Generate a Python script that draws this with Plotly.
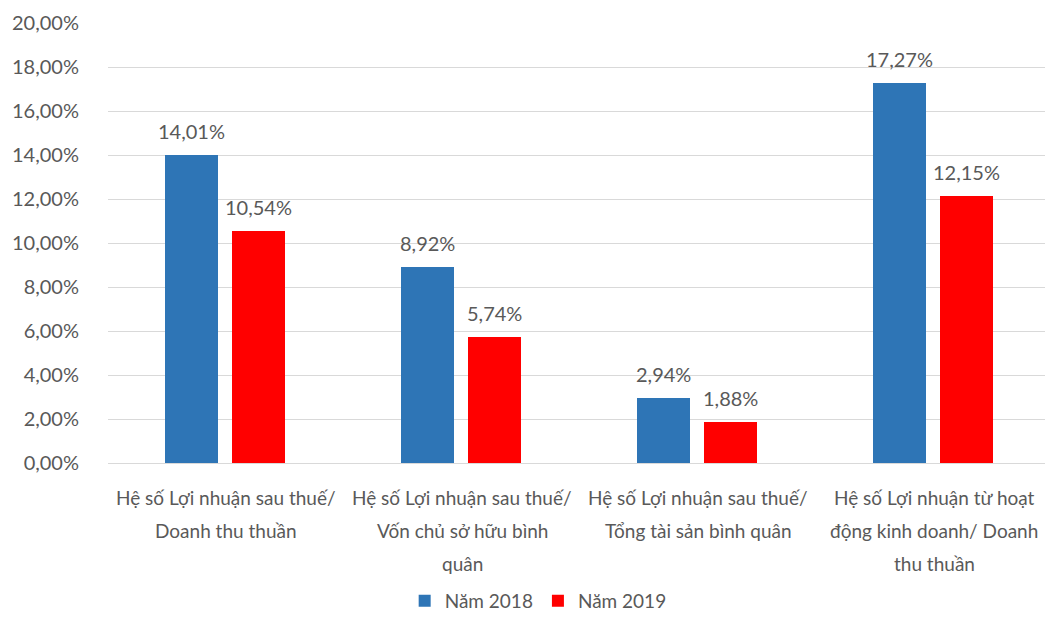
import plotly.graph_objects as go

categories = [
    ["Hệ số Lợi nhuận sau thuế/", "Doanh thu thuần"],
    ["Hệ số Lợi nhuận sau thuế/", "Vốn chủ sở hữu bình", "quân"],
    ["Hệ số Lợi nhuận sau thuế/", "Tổng tài sản bình quân"],
    ["Hệ số Lợi nhuận từ hoạt", "động kinh doanh/ Doanh", "thu thuần"],
]
series_names = ["Năm 2018", "Năm 2019"]
values_2018 = [0.1401, 0.0892, 0.0294, 0.1727]
values_2019 = [0.1054, 0.0574, 0.0188, 0.1215]
y_ticks = [0, 0.02, 0.04, 0.06, 0.08, 0.10, 0.12, 0.14, 0.16, 0.18, 0.20]

FONT = "Lato"
TXT = "#595959"
colors = ["#2E75B6", "#FF0000"]
offsets = [-0.145, 0.138]
bar_w = 0.225

x_idx = list(range(len(categories)))
fig = go.Figure()
for name, vals, col, off in zip(series_names, [values_2018, values_2019], colors, offsets):
    fig.add_trace(go.Bar(
        x=[i + off for i in x_idx], y=vals, name=name, width=bar_w,
        marker=dict(color=col, line=dict(width=0)),
    ))

annotations = []
for vals, off in zip([values_2018, values_2019], offsets):
    for i, v in zip(x_idx, vals):
        annotations.append(dict(
            x=i + off, y=v, xref="x", yref="y", text=f"{v*100:.2f}%".replace(".", ","),
            showarrow=False, yanchor="bottom", yshift=10,
            font=dict(family=FONT, size=20, color=TXT),
        ))
for i, lines in zip(x_idx, categories):
    for j, line in enumerate(lines):
        annotations.append(dict(
            x=i, y=0, xref="x", yref="y", text=line, showarrow=False,
            yanchor="middle", yshift=-(34 + 33 * j),
            font=dict(family=FONT, size=19, color=TXT),
        ))

fig.update_layout(
    width=1045, height=620,
    margin=dict(l=108, r=0, t=23, b=157),
    plot_bgcolor="white", paper_bgcolor="white",
    separators=",.",
    font=dict(family=FONT, size=19, color=TXT),
    showlegend=True,
    legend=dict(orientation="h", xref="container", yref="container", x=0.515, xanchor="center",
                y=0.0, yanchor="bottom", font=dict(family=FONT, size=19, color=TXT),
                itemwidth=30, traceorder="normal"),
    annotations=annotations,
    xaxis=dict(range=[-0.5, 3.47], showticklabels=False, showgrid=False, zeroline=False,
               showline=True, linecolor="#d9d9d9", linewidth=1, ticks=""),
    yaxis=dict(range=[0, 0.2], tickvals=y_ticks, tickformat=".2%", showgrid=True,
               gridcolor="#d9d9d9", gridwidth=1, zeroline=False, showline=False,
               ticks="", ticklabelstandoff=28,
               tickfont=dict(family=FONT, size=20, color=TXT)),
    bargap=0,
)
fig.write_html("out.html")
